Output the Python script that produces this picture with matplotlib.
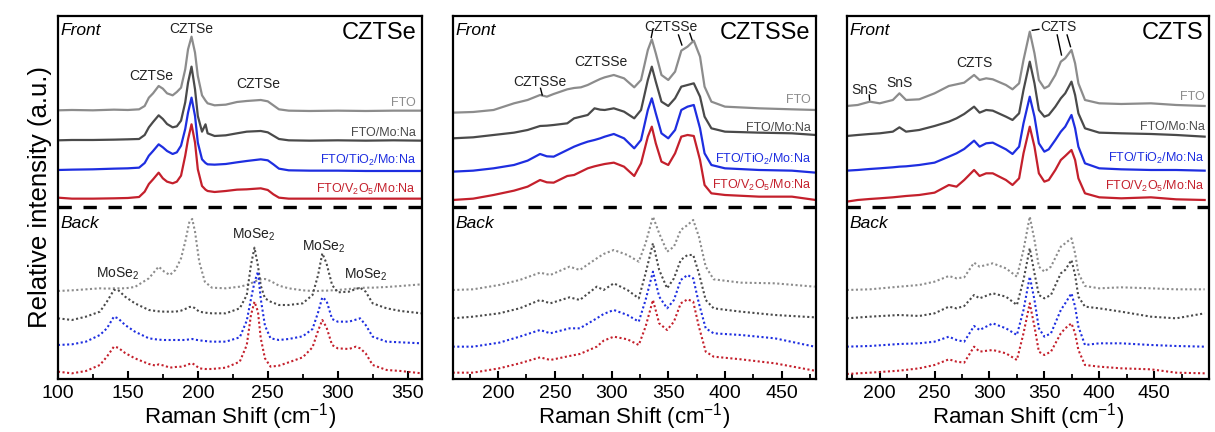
import numpy as np
import matplotlib
matplotlib.use("Agg")
import matplotlib.pyplot as plt

plt.rcParams["font.family"] = ["Liberation Sans", "DejaVu Sans"]
plt.rcParams["mathtext.fontset"] = "custom"
plt.rcParams["mathtext.rm"] = "Liberation Sans"
plt.rcParams["mathtext.it"] = "Liberation Sans:italic"

C_FTO = "#8c8c8c"
C_MO = "#4a4a4a"
C_TI = "#1e2ee0"
C_V = "#c4202c"
COLORS = [C_FTO, C_MO, C_TI, C_V]
SAMPLES = ["FTO", "FTO/Mo:Na", "FTO/TiO$_2$/Mo:Na", "FTO/V$_2$O$_5$/Mo:Na"]

# ---------------- CZTSe ----------------
x_cztse_front = [100, 110, 125, 140, 150, 158, 162, 165, 168, 172, 175, 178, 182, 185, 188, 191, 193,
                 195.5, 198, 200, 203, 205.5, 207, 212, 220, 228, 235, 245, 250, 254, 258, 265, 280,
                 300, 320, 340, 360]
cztse_front_fto = [806, 807, 806, 808, 807, 809, 819, 844, 857, 879, 871, 857, 851, 861, 874, 929, 989,
                   1027, 979, 909, 851, 835, 827, 821, 823, 831, 834, 837, 833, 821, 809, 805, 804,
                   805, 804, 805, 805]
cztse_front_mo = [716, 717, 717, 718, 719, 720, 732, 755, 771, 791, 780, 765, 755, 758, 775, 830, 889,
                  937, 869, 789, 742, 764, 737, 729, 731, 737, 742, 744, 740, 730, 720, 716, 715,
                  716, 715, 716, 715]
cztse_front_ti = [627, 628, 629, 631, 632, 634, 648, 670, 684, 704, 695, 684, 675, 680, 700, 750, 799,
                  844, 789, 709, 659, 648, 644, 643, 645, 650, 654, 659, 656, 644, 631, 626, 625,
                  625, 624, 624, 624]
cztse_front_v = [544, 541, 541, 542, 543, 546, 562, 585, 599, 619, 602, 592, 587, 592, 610, 670, 719,
                 764, 709, 629, 579, 568, 564, 561, 564, 568, 569, 572, 567, 554, 544, 541, 541,
                 541, 541, 541, 541]

x_cztse_back = [100, 110, 120, 130, 135, 140, 143, 148, 155, 165, 170, 172, 176, 180, 184, 188, 191,
                194, 196, 198, 201, 205, 210, 220, 230, 235, 238, 240.5, 243, 245, 248, 252, 258,
                265, 275, 282, 286, 289, 292, 296, 300, 308, 313, 316, 320, 325, 335, 345, 360]
cztse_back_fto = [264, 266, 269, 272, 271, 272, 272, 272, 276, 302, 327, 337, 322, 312, 327, 362, 412,
                  472, 480, 442, 352, 292, 274, 272, 277, 282, 287, 292, 297, 299, 300, 294, 280,
                  272, 266, 264, 264, 265, 265, 266, 267, 270, 272, 273, 274, 274, 276, 279, 284]
cztse_back_mo = [182, 177, 187, 202, 232, 267, 267, 247, 227, 207, 204, 203, 202, 202, 202, 205, 210,
                 216, 217, 212, 202, 199, 197, 197, 212, 252, 342, 394, 340, 280, 242, 232, 222,
                 222, 227, 252, 312, 377, 347, 282, 260, 262, 270, 274, 262, 227, 212, 204, 197]
cztse_back_ti = [102, 104, 112, 132, 152, 187, 182, 162, 142, 122, 119, 118, 117, 117, 117, 117, 117,
                 119, 120, 118, 116, 114, 112, 112, 125, 175, 240, 290, 322, 240, 160, 122, 117,
                 120, 128, 150, 200, 245, 235, 180, 172, 172, 178, 182, 162, 127, 112, 110, 107]
cztse_back_v = [22, 17, 24, 42, 67, 97, 94, 78, 62, 45, 40, 44, 40, 34, 36, 37, 40,
                45, 47, 42, 32, 30, 30, 34, 52, 102, 192, 232, 202, 122, 62, 37, 40,
                50, 65, 95, 145, 177, 155, 102, 92, 90, 97, 92, 77, 42, 27, 24, 17]

# ---------------- CZTSSe ----------------
x_cztsse_front = [160, 178, 196, 214, 226, 237, 243, 249, 261, 267, 273, 279, 285, 290, 294, 302, 311,
                  320, 326, 332, 335.5, 339, 344, 350, 356, 361.5, 367, 372.5, 378, 382, 388, 400,
                  430, 459, 480]
cztsse_front_fto = [799, 801, 807, 827, 837, 852, 847, 855, 869, 873, 875, 882, 892, 900, 905, 912, 902,
                    875, 897, 987, 1019, 977, 912, 897, 922, 985, 997, 1015, 967, 877, 832, 817,
                    812, 809, 807]
cztsse_front_mo = [722, 725, 732, 739, 747, 759, 760, 762, 767, 782, 787, 792, 812, 808, 807, 812, 802,
                   782, 807, 897, 937, 892, 832, 819, 842, 877, 882, 887, 847, 787, 752, 742,
                   739, 737, 732]
cztsse_front_ti = [622, 625, 632, 642, 655, 675, 668, 667, 687, 697, 705, 712, 717, 722, 727, 735, 722,
                   692, 717, 807, 842, 797, 737, 722, 747, 807, 817, 822, 752, 677, 642, 632,
                   627, 625, 619]
cztsse_front_v = [537, 541, 552, 565, 577, 597, 590, 589, 609, 612, 622, 632, 638, 642, 645, 649, 637,
                  609, 647, 727, 757, 707, 652, 642, 677, 727, 732, 729, 657, 582, 557, 552,
                  547, 547, 537]

x_cztsse_back = [160, 178, 201, 219, 237, 246, 263, 272, 287, 293, 302, 314, 324, 330, 336.5, 342, 349,
                 355, 361, 367, 372, 377, 383, 390, 414, 444, 479]
cztsse_back_fto = [267, 269, 282, 297, 319, 312, 337, 327, 362, 375, 387, 372, 352, 407, 487, 437, 382,
                   397, 447, 462, 477, 427, 337, 299, 289, 287, 277]
cztsse_back_mo = [182, 187, 197, 212, 237, 227, 245, 237, 277, 267, 287, 267, 242, 317, 407, 327, 272,
                  302, 357, 372, 372, 317, 237, 212, 202, 192, 185]
cztsse_back_ti = [97, 97, 109, 127, 147, 137, 152, 152, 182, 195, 207, 192, 172, 237, 322, 247, 212,
                  237, 297, 312, 302, 227, 152, 137, 132, 122, 97]
cztsse_back_v = [19, 19, 32, 47, 65, 57, 69, 75, 97, 115, 127, 119, 102, 157, 237, 167, 147,
                 172, 227, 239, 232, 157, 82, 67, 59, 47, 25]

# ---------------- CZTS ----------------
x_czts_front = [170, 180, 191, 200, 212, 218, 224, 236, 250, 263, 270, 277, 286, 291, 297, 303, 315,
                321, 327, 331, 336.7, 341, 345, 350, 354, 360, 365, 369, 374.7, 378, 381, 387, 400,
                420, 447, 470, 496]
czts_front_fto = [819, 822, 832, 827, 837, 857, 837, 839, 857, 879, 884, 889, 912, 897, 902, 899, 882,
                  869, 887, 957, 1042, 977, 897, 872, 879, 912, 952, 962, 987, 947, 887, 837, 827,
                  825, 827, 822, 819]
czts_front_mo = [729, 732, 735, 737, 742, 755, 742, 747, 759, 772, 782, 795, 817, 799, 807, 805, 787,
                 777, 797, 867, 952, 887, 807, 787, 792, 817, 842, 857, 892, 852, 797, 752, 739,
                 737, 735, 732, 727]
czts_front_ti = [625, 627, 630, 632, 635, 637, 638, 642, 649, 667, 677, 690, 715, 697, 707, 709, 689,
                 675, 697, 767, 847, 787, 707, 682, 689, 717, 742, 757, 792, 752, 697, 647, 632,
                 629, 627, 627, 625]
czts_front_v = [532, 537, 540, 542, 545, 547, 549, 552, 559, 582, 577, 597, 627, 609, 617, 617, 597,
                582, 602, 677, 757, 697, 617, 592, 597, 627, 657, 669, 687, 657, 602, 557, 545,
                542, 545, 539, 537]

x_czts_back = [170, 191, 218, 236, 250, 263, 270, 277, 286, 291, 303, 315, 325, 331, 336.7, 341, 345,
               350, 356, 365, 369, 374.7, 378, 381, 387, 400, 420, 447, 470, 496]
czts_back_fto = [267, 269, 277, 282, 292, 309, 302, 305, 349, 337, 347, 332, 307, 387, 487, 417, 337,
                 322, 337, 397, 407, 422, 377, 317, 279, 272, 275, 272, 269, 269]
czts_back_mo = [182, 187, 192, 189, 197, 217, 212, 219, 252, 242, 257, 247, 222, 297, 392, 317, 252,
                242, 252, 317, 327, 357, 312, 247, 217, 212, 202, 187, 182, 197]
czts_back_ti = [97, 99, 105, 107, 112, 127, 117, 112, 159, 147, 167, 152, 132, 207, 307, 237, 152,
                127, 137, 207, 227, 257, 217, 157, 102, 107, 107, 102, 99, 97]
czts_back_v = [15, 19, 25, 32, 42, 59, 52, 49, 97, 82, 87, 77, 57, 137, 227, 157, 82,
               72, 82, 137, 152, 167, 137, 87, 42, 37, 32, 29, 19, 17]

panels = [
    dict(title="CZTSe", xlim=(100, 360), xticks=[100, 150, 200, 250, 300, 350], minor=np.arange(125, 360, 50),
         xf=x_cztse_front, front=[cztse_front_fto, cztse_front_mo, cztse_front_ti, cztse_front_v],
         xb=x_cztse_back, back=[cztse_back_fto, cztse_back_mo, cztse_back_ti, cztse_back_v],
         label_x=356, label_y=[827, 739, 655, 570],
         peaks=[("CZTSe", 195, 1049), ("CZTSe", 167, 909), ("CZTSe", 243, 884),
                ("MoSe$_2$", 143, 317), ("MoSe$_2$", 240, 432), ("MoSe$_2$", 290, 397),
                ("MoSe$_2$", 320, 312)],
         leaders=[]),
    dict(title="CZTSSe", xlim=(160, 480), xticks=[200, 250, 300, 350, 400, 450], minor=np.arange(175, 480, 50),
         xf=x_cztsse_front, front=[cztsse_front_fto, cztsse_front_mo, cztsse_front_ti, cztsse_front_v],
         xb=x_cztsse_back, back=[cztsse_back_fto, cztsse_back_mo, cztsse_back_ti, cztsse_back_v],
         label_x=476, label_y=[837, 752, 659, 582],
         peaks=[("CZTSSe", 237, 892), ("CZTSSe", 291, 952), ("CZTSSe", 352, 1057)],
         leaders=[((336.5, 1050), (335, 1025)), ((359, 1032), (362, 1002)),
                  ((369, 1037), (371, 1017)), ((237.4, 872), (238.9, 852))]),
    dict(title="CZTS", xlim=(170, 500), xticks=[200, 250, 300, 350, 400, 450], minor=np.arange(175, 500, 50),
         xf=x_czts_front, front=[czts_front_fto, czts_front_mo, czts_front_ti, czts_front_v],
         xb=x_czts_back, back=[czts_back_fto, czts_back_mo, czts_back_ti, czts_back_v],
         label_x=496, label_y=[847, 757, 662, 577],
         peaks=[("SnS", 186, 867), ("SnS", 218, 887), ("CZTS", 286, 947), ("CZTS", 363, 1057)],
         leaders=[((339, 1046), (345, 1049)), ((361.7, 1032), (365.6, 972)),
                  ((370.7, 1032), (373.8, 997)), ((190.5, 852), (190.8, 837))]),
]

fig = plt.figure(figsize=(12.15, 4.32), dpi=100)
lefts = [0.0477, 0.3726, 0.6969]
widths = [0.2993, 0.2988, 0.2982]

for i, p in enumerate(panels):
    ax = fig.add_axes([lefts[i], 0.1227, widths[i], 0.8403])
    for ys, c in zip(p["front"], COLORS):
        ax.plot(p["xf"], ys, color=c, lw=1.6, solid_joinstyle="round")
    for ys, c in zip(p["back"], COLORS):
        ax.plot(p["xb"], ys, color=c, lw=1.5, ls=(0, (1, 1.2)))
    ax.axhline(516, color="black", lw=2.4, dashes=(4, 3.5))

    for name, ly, c in zip(SAMPLES, p["label_y"], COLORS):
        ax.text(p["label_x"], ly, name, color=c, fontsize=9, ha="right", va="center")
    for txt, px, py in p["peaks"]:
        ax.text(px, py, txt, fontsize=10, ha="center", va="center", color="#222222")
    for (x0, y0), (x1, y1) in p["leaders"]:
        ax.plot([x0, x1], [y0, y1], color="black", lw=1.0)

    x0, x1 = p["xlim"]
    ax.text(x0 + 0.008 * (x1 - x0), 1044, "Front", fontsize=12.5, style="italic", va="center")
    ax.text(x0 + 0.008 * (x1 - x0), 467, "Back", fontsize=12.5, style="italic", va="center")
    ax.text(x1 - 0.015 * (x1 - x0), 1039, p["title"], fontsize=17, ha="right", va="center")

    ax.set_xlim(x0, x1)
    ax.set_ylim(0, 1089)
    ax.set_xticks(p["xticks"])
    ax.set_xticks(p["minor"], minor=True)
    ax.set_yticks([])
    ax.tick_params(axis="x", which="major", direction="in", length=6, width=1.5, labelsize=14, pad=4)
    ax.tick_params(axis="x", which="minor", direction="in", length=3.5, width=1.3)
    for s in ax.spines.values():
        s.set_linewidth(1.6)
    ax.set_xlabel("Raman Shift (cm$^{-1}$)", fontsize=16, labelpad=0)
    if i == 0:
        ax.set_ylabel("Relative intensity (a.u.)", fontsize=18.5, labelpad=4)

fig.savefig("out.png", dpi=100)
